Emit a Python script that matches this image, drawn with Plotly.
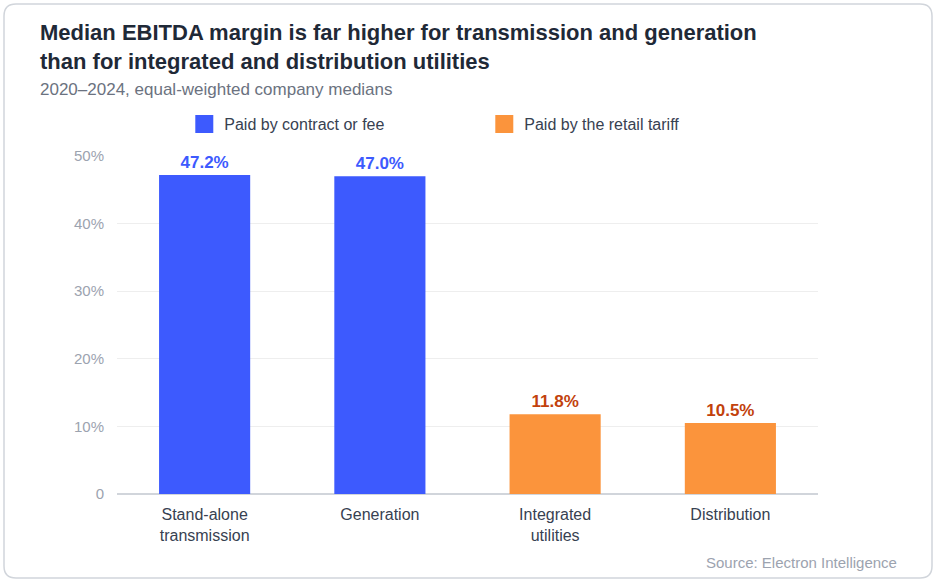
import plotly.graph_objects as go

# data
categories = ['Stand-alone<br>transmission', 'Generation', 'Integrated<br>utilities', 'Distribution']
margins = [47.2, 47.0, 11.8, 10.5]
groups = ['Paid by contract or fee', 'Paid by contract or fee', 'Paid by the retail tariff', 'Paid by the retail tariff']
tick_vals = [0, 10, 20, 30, 40, 50]
tick_text = ['0', '10%', '20%', '30%', '40%', '50%']

colors = {
    'Paid by contract or fee': ('#3d5afe', '#3d5afe'),
    'Paid by the retail tariff': ('#fb943c', '#c2410c'),
}

# plot area in pixels, used to place things outside it
L, R, T, B = 117, 818, 156, 494
def px(x): return (x - L) / (R - L)
def py(y): return (B - y) / (B - T)

fig = go.Figure()
for g, (bar_col, lab_col) in colors.items():
    xs = [c for c, gg in zip(categories, groups) if gg == g]
    ys = [v for v, gg in zip(margins, groups) if gg == g]
    fig.add_trace(go.Bar(
        x=xs, y=ys, name=g, showlegend=False,
        marker=dict(color=bar_col, line=dict(width=0)),
        width=0.52,
        text=[f'{v:.1f}%' for v in ys], textposition='outside',
        textfont=dict(family='Liberation Sans', size=17, color=lab_col, weight='bold'),
        cliponaxis=False,
    ))
    # legend entry with a bigger square
    fig.add_trace(go.Scatter(
        x=[None], y=[None], mode='markers', name=g,
        marker=dict(symbol='square', size=16, color=bar_col, line=dict(color=bar_col, width=2)),
    ))

# card border with rounded corners (paper units)
x0, x1 = px(4), px(932)
y0, y1 = py(578), py(4)
rx, ry = 12 / (R - L), 12 / (B - T)
card = (f'M{x0+rx},{y1} L{x1-rx},{y1} Q{x1},{y1} {x1},{y1-ry} L{x1},{y0+ry} Q{x1},{y0} {x1-rx},{y0} '
        f'L{x0+rx},{y0} Q{x0},{y0} {x0},{y0+ry} L{x0},{y1-ry} Q{x0},{y1} {x0+rx},{y1} Z')

fig.update_layout(
    width=936, height=582,
    margin=dict(l=L, r=936 - R, t=T, b=582 - B),
    paper_bgcolor='white', plot_bgcolor='white',
    font=dict(family='Liberation Sans', color='#374151'),
    barmode='overlay',
    legend=dict(
        orientation='h', x=0.096, xanchor='left', y=py(124), yanchor='middle',
        entrywidth=255, entrywidthmode='pixels',
        font=dict(size=16, color='#374151'), bgcolor='rgba(0,0,0,0)',
    ),
    xaxis=dict(
        tickfont=dict(size=16, color='#374151'), ticks='', ticklabelstandoff=9,
        showgrid=False, showline=False, zeroline=False, fixedrange=True,
    ),
    yaxis=dict(
        range=[0, 50], tickvals=tick_vals, ticktext=tick_text,
        tickfont=dict(size=15, color='#9ca3af'), ticks='', ticklabelstandoff=12,
        showgrid=True, gridcolor='#eeeeee', gridwidth=1,
        zeroline=True, zerolinecolor='#d1d5db', zerolinewidth=2,
        showline=False,
    ),
    shapes=[dict(type='path', xref='paper', yref='paper', path=card,
                 line=dict(color='#d1d5db', width=1.5), fillcolor='rgba(0,0,0,0)', layer='below')],
    annotations=[
        dict(text='<b>Median EBITDA margin is far higher for transmission and generation<br>'
                  'than for integrated and distribution utilities</b>',
             xref='paper', yref='paper', x=px(38), y=py(18), xanchor='left', yanchor='top', align='left',
             showarrow=False, font=dict(size=22, color='#1f2937')),
        dict(text='2020–2024, equal-weighted company medians',
             xref='paper', yref='paper', x=px(38), y=py(89), xanchor='left', yanchor='middle',
             showarrow=False, font=dict(size=17, color='#6b7280')),
        dict(text='Source: Electron Intelligence', xref='paper', yref='paper',
             x=px(899), y=py(562), xanchor='right', yanchor='middle',
             showarrow=False, font=dict(size=15, color='#9ca3af')),
    ],
)

fig.write_html('out.html', config={'displayModeBar': False},
               post_script="document.body.style.margin='0';")
